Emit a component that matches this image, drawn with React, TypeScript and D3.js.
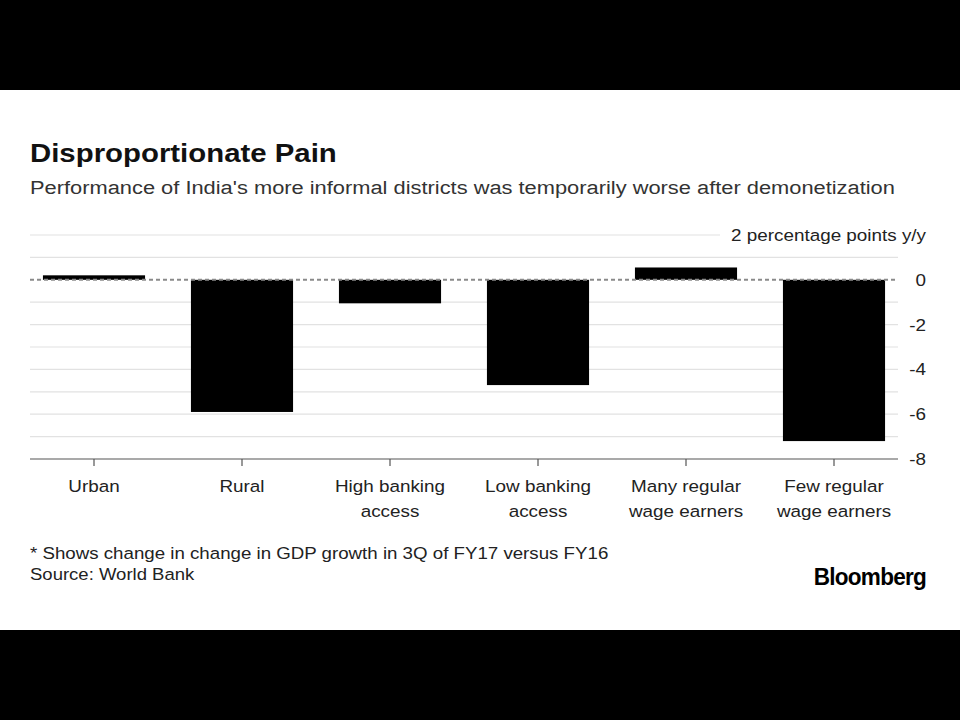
import React, { useEffect, useRef } from 'react';
import * as d3 from 'd3';

// change in GDP growth, percentage points y/y
const categories = [
  ['Urban'],
  ['Rural'],
  ['High banking', 'access'],
  ['Low banking', 'access'],
  ['Many regular', 'wage earners'],
  ['Few regular', 'wage earners'],
];
const values = [0.2, -5.9, -1.05, -4.7, 0.55, -7.2];
const gridValues = [2, 1, -1, -2, -3, -4, -5, -6, -7];
const tickLabels = [0, -2, -4, -6, -8];

const W = 960;
const H = 720;
const FONT = '"Liberation Sans", Arial, Helvetica, sans-serif';
const SX = 1.11; // the lettering is a touch wider than Arial

type TextOpts = {
  size: number;
  weight?: string;
  anchor?: string;
  sx?: number;
  fill?: string;
  spacing?: number;
};

function addText(
  parent: d3.Selection<any, any, any, any>,
  x: number,
  y: number,
  str: string,
  o: TextOpts
) {
  return parent
    .append('text')
    .attr('transform', `translate(${x},${y}) scale(${o.sx ?? SX},1)`)
    .attr('font-family', FONT)
    .attr('font-size', o.size)
    .attr('font-weight', o.weight ?? 'normal')
    .attr('text-anchor', o.anchor ?? 'start')
    .attr('letter-spacing', o.spacing ?? 0)
    .attr('fill', o.fill ?? '#222')
    .text(str);
}

const App: React.FC = () => {
  const svgRef = useRef<SVGSVGElement>(null);

  useEffect(() => {
    if (!svgRef.current) return;
    const svg = d3.select(svgRef.current);
    svg.selectAll('*').remove();

    svg.append('rect').attr('width', W).attr('height', H).attr('fill', '#fff');
    svg.append('rect').attr('width', W).attr('height', 90).attr('fill', '#000');
    svg.append('rect').attr('y', 630).attr('width', W).attr('height', 90).attr('fill', '#000');

    const x = d3
      .scaleBand()
      .domain(d3.range(categories.length).map(String))
      .range([20, 908])
      .paddingInner(0.31)
      .paddingOuter(0.155);

    const y = d3.scaleLinear().domain([-8, 2]).range([459, 235]);

    const gridLeft = 30;
    const gridRight = 898;

    // Title block
    addText(svg, 30, 162, 'Disproportionate Pain', { size: 26, weight: 'bold', sx: 1.13, fill: '#111' });
    addText(
      svg,
      30,
      194,
      "Performance of India's more informal districts was temporarily worse after demonetization",
      { size: 19, sx: 1.15, fill: '#333' }
    );

    // horizontal gridlines
    svg
      .append('g')
      .selectAll('line')
      .data(gridValues)
      .enter()
      .append('line')
      .attr('x1', gridLeft)
      .attr('x2', (d) => (d === 2 ? 720 : gridRight))
      .attr('y1', (d) => y(d))
      .attr('y2', (d) => y(d))
      .attr('stroke', '#e2e2e2')
      .attr('stroke-width', 1.2);

    // unit label on top gridline
    addText(svg, 926, y(2) + 6, '2 percentage points y/y', { size: 17, anchor: 'end' });

    // bars
    svg
      .append('g')
      .selectAll('rect')
      .data(values)
      .enter()
      .append('rect')
      .attr('x', (_, i) => x(String(i)) || 0)
      .attr('width', x.bandwidth())
      .attr('y', (d) => y(Math.max(0, d)))
      .attr('height', (d) => Math.abs(y(d) - y(0)))
      .attr('fill', '#000');

    // zero line
    svg
      .append('line')
      .attr('x1', gridLeft)
      .attr('x2', gridRight)
      .attr('y1', y(0))
      .attr('y2', y(0))
      .attr('stroke', '#8a8a8a')
      .attr('stroke-width', 2)
      .attr('stroke-dasharray', '4,3');

    // right-hand value labels
    const ticks = svg.append('g');
    tickLabels.forEach((d) => {
      addText(ticks, 926, y(d) + 6, String(d), { size: 17, anchor: 'end' });
    });

    // bottom axis line and ticks
    svg
      .append('line')
      .attr('x1', gridLeft)
      .attr('x2', gridRight)
      .attr('y1', y(-8))
      .attr('y2', y(-8))
      .attr('stroke', '#555')
      .attr('stroke-width', 1.2);

    categories.forEach((lines, i) => {
      const cx = (x(String(i)) || 0) + x.bandwidth() / 2;
      const g = svg.append('g').attr('transform', `translate(${cx},${y(-8)})`);
      g.append('line').attr('y1', 0).attr('y2', 7).attr('stroke', '#555').attr('stroke-width', 1.2);
      lines.forEach((t, j) => {
        addText(g, 0, 33 + j * 25, t, { size: 17, anchor: 'middle' });
      });
    });

    // footnotes
    addText(svg, 30, 559, '* Shows change in change in GDP growth in 3Q of FY17 versus FY16', { size: 17, sx: 1.1 });
    addText(svg, 30, 580, 'Source: World Bank', { size: 17, sx: 1.09 });

    addText(svg, 926, 585, 'Bloomberg', {
      size: 24,
      weight: 'bold',
      anchor: 'end',
      sx: 0.94,
      spacing: -0.8,
      fill: '#000',
    });
  }, []);

  return (
    <svg
      ref={svgRef}
      width={W}
      height={H}
      style={{ position: 'absolute', left: 0, top: 0, display: 'block' }}
    />
  );
};

export default App;
